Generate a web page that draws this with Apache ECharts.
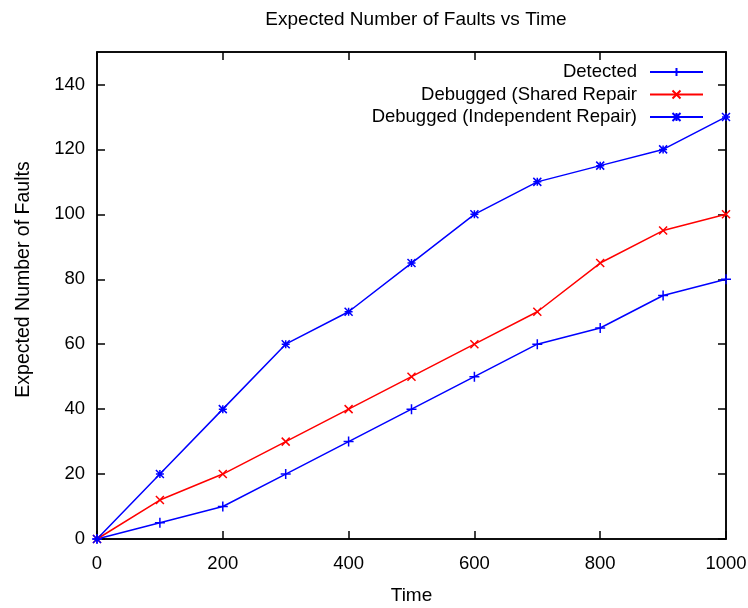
<!DOCTYPE html>
<html><head><meta charset="utf-8">
<script src="https://cdn.jsdelivr.net/npm/echarts@6/dist/echarts.min.js"></script>
<style>html,body{margin:0;padding:0;background:#fff}#c{width:748px;height:608px}</style>
</head><body><div id="c"></div>
<script>
const times = [0,100,200,300,400,500,600,700,800,900,1000];
const detected = [0,5,10,20,30,40,50,60,65,75,80];
const sharedRepair = [0,12,20,30,40,50,60,70,85,95,100];
const independentRepair = [0,20,40,60,70,85,100,110,115,120,130];
const seriesNames = ['Detected','Debugged (Shared Repair','Debugged (Independent Repair)'];
const xTicks = [0,200,400,600,800,1000];
const yTicks = [0,20,40,60,80,100,120,140];

const FONT = 'Liberation Sans';
const plus = 'path://M5,0L5,10M0,5L10,5';
const cross = 'path://M0,0L10,10M0,10L10,0';
const star = 'path://M5,0L5,10M0,5L10,5M0,0L10,10M0,10L10,0';

function mk(name, vals, color, sym, size){
  return {
    name, type:'line', data: times.map((t,i)=>[t, vals[i]]),
    symbol: sym, symbolSize: size, showSymbol:true,
    lineStyle:{color, width:1.5},
    itemStyle:{color:'none', borderColor:color, borderWidth:1.5},
    emphasis:{disabled:true}, animation:false, z: 3
  };
}
const chart = echarts.init(document.getElementById('c'));
const line = {show:true, onZero:false, lineStyle:{color:'#000', width:1.5}};
const tick = {show:true, inside:true, length:8, lineStyle:{color:'#000', width:1.5}};
chart.setOption({
  animation:false,
  backgroundColor:'#fff',
  title:{text:'Expected Number of Faults vs Time', left:411, textAlign:'center', top:5,
    textStyle:{fontFamily:FONT, fontSize:19, fontWeight:'normal', color:'#000'}},
  grid:{left:97, right:22, top:52, bottom:69, show:true, borderColor:'#000', borderWidth:1.5,
    backgroundColor:'transparent', containLabel:false, outerBoundsMode:'none'},
  legend:{
    data:seriesNames, orient:'vertical', right:44, top:62, align:'right', padding:0,
    itemWidth:53, itemHeight:10, itemGap:2.5,
    textStyle:{fontFamily:FONT, fontSize:18.5, lineHeight:20, color:'#000', padding:[0,8,0,0]}
  },
  xAxis:[
    {type:'value', min:0, max:1000, interval:200, position:'bottom', gridIndex:0,
      axisLine:line, axisTick:Object.assign({customValues:xTicks}, tick), splitLine:{show:false},
      name:'Time', nameLocation:'middle', nameGap:47,
      nameTextStyle:{fontFamily:FONT, fontSize:19, color:'#000'},
      axisLabel:{customValues:xTicks, fontFamily:FONT, fontSize:18.5, color:'#000', margin:15, formatter:v=>String(v)}},
    {type:'value', min:0, max:1000, interval:200, position:'top', gridIndex:0,
      axisLine:line, axisTick:Object.assign({customValues:xTicks}, tick), splitLine:{show:false},
      axisLabel:{show:false}}
  ],
  yAxis:[
    {type:'value', min:0, max:150, interval:10, position:'left', gridIndex:0,
      axisLine:line, axisTick:Object.assign({customValues:yTicks}, tick), splitLine:{show:false},
      name:'Expected Number of Faults', nameLocation:'middle', nameGap:63,
      nameTextStyle:{fontFamily:FONT, fontSize:19.5, color:'#000', padding:[0,0,0,32]},
      axisLabel:{customValues:yTicks, fontFamily:FONT, fontSize:18.5, color:'#000', margin:12, formatter:v=>String(v)}},
    {type:'value', min:0, max:150, interval:10, position:'right', gridIndex:0,
      axisLine:line, axisTick:Object.assign({customValues:yTicks}, tick), splitLine:{show:false},
      axisLabel:{show:false}}
  ],
  series:[
    mk(seriesNames[0], detected, '#0000ff', plus, 10),
    mk(seriesNames[1], sharedRepair, '#ff0000', cross, 8),
    mk(seriesNames[2], independentRepair, '#0000ff', star, 8),
    {type:'line', xAxisIndex:1, yAxisIndex:1, data:[], silent:true, showSymbol:false}
  ]
});
</script></body></html>
